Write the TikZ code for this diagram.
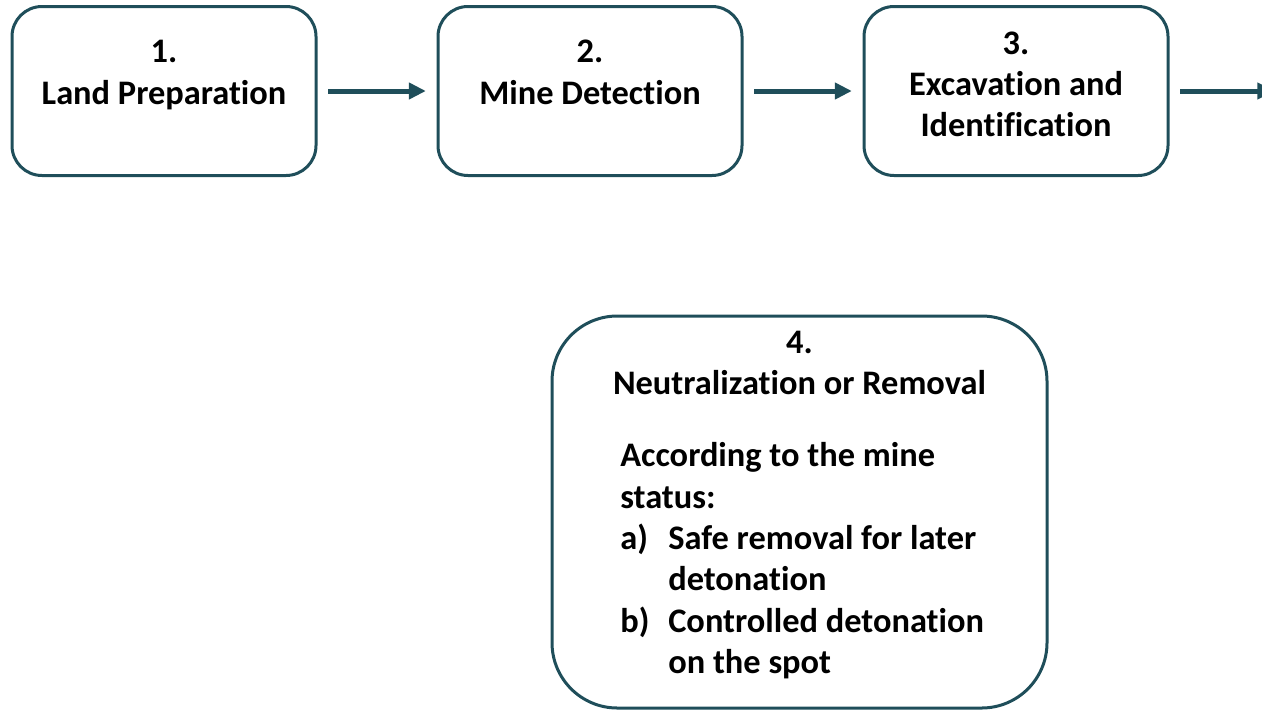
\documentclass[tikz,border=0pt]{standalone}
\usepackage{fontspec}
\setmainfont{Carlito}[Ligatures=NoCommon]
\usetikzlibrary{arrows.meta,calc}
\definecolor{teal}{RGB}{31,78,90}
\tikzset{
  x=0.75pt, y=-0.75pt,
  stepbox/.style={draw=teal, line width=2.25pt, rounded corners=22.5pt,
    minimum width=228pt, minimum height=126.75pt, inner sep=0pt},
  bigbox/.style={draw=teal, line width=2.25pt, rounded corners=49pt,
    minimum width=371.25pt, minimum height=294pt, inner sep=0pt},
  label/.style={font=\bfseries\fontsize{25.8pt}{31.5pt}\selectfont, inner sep=0pt, align=center},
  body/.style={font=\bfseries\fontsize{25.8pt}{31pt}\selectfont, inner sep=0pt, align=left},
  flow/.style={draw=teal, line width=3.75pt, shorten <=8pt, shorten >=8pt,
    -{Triangle[length=12.75pt, width=12pt]}}
}
\begin{document}
\begin{tikzpicture}
\useasboundingbox (0,0) rectangle (1262,711);
\clip (0,0) rectangle (1262,711);
% process steps
\node[stepbox] (s1) at (164,91) {};
\node[stepbox] (s2) at (590,91) {};
\node[stepbox] (s3) at (1016,91) {};
\node[bigbox] (s4) at (799.5,512) {};
\coordinate (out) at (1285,91);
% step titles
\node[label, anchor=north] (t1) at (164,40) {1.\\Land Preparation};
\node[label, anchor=north] (t2) at (590,40) {2.\\Mine Detection};
\node[label, anchor=north, font=\bfseries\fontsize{25.8pt}{30.5pt}\selectfont] (t3) at (1016,32) {3.\\Excavation and\\Identification};
\node[label, anchor=north, font=\bfseries\fontsize{25.8pt}{31pt}\selectfont] (t4) at (799.5,331) {4.\\Neutralization or Removal};
\node[body, anchor=north west] (d4) at (620,442.5) {According to the mine\\status:\\
  \makebox[36pt][l]{a)}Safe removal for later\\\hspace*{36pt}detonation\\
  \makebox[36pt][l]{b)}Controlled detonation\\\hspace*{36pt}on the spot};
% connectors
\draw[flow] (s1) -- (s2);
\draw[flow] (s2) -- (s3);
\draw[flow] (s3) -- (out);
\end{tikzpicture}
\end{document}
